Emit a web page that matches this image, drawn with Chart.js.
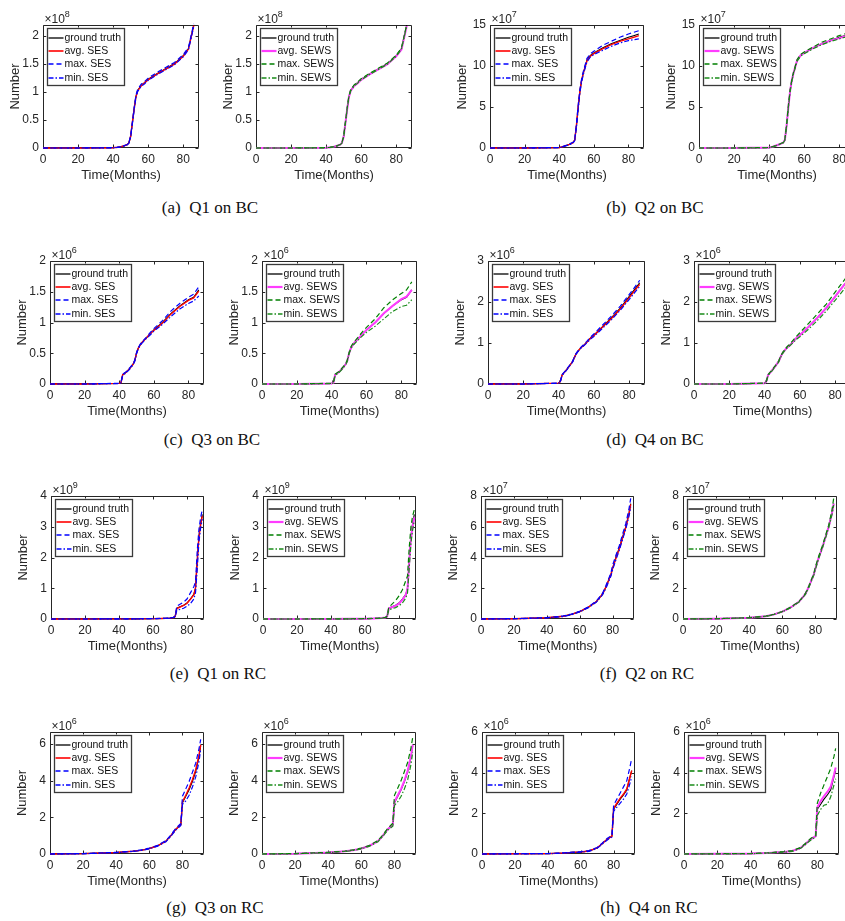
<!DOCTYPE html>
<html>
<head>
<meta charset="utf-8">
<script src="https://cdn.jsdelivr.net/npm/chart.js@4.4.1/dist/chart.umd.min.js"></script>
<style>
  html, body { margin: 0; padding: 0; background: #fff; }
  body { width: 845px; height: 921px; position: relative; overflow: hidden; }
  canvas { position: absolute; }
  .caption {
    position: absolute;
    font-family: 'Liberation Serif', 'Times New Roman', serif;
    font-size: 17px;
    color: #111;
    white-space: pre;
    line-height: 20px;
    transform: translateX(-50%);
  }
</style>
</head>
<body>
<script>
// months on the x axis (BC data and RC data)
const bcMonths   = [0, 20, 40, 41, 42, 44, 46, 48, 49, 50, 51, 52, 53, 54, 56, 58, 60, 65, 70, 75, 80, 83, 86];
const rcMonthsQ1 = [0, 20, 40, 50, 60, 65, 70, 72, 73, 74, 78, 80, 82, 84, 85, 86, 87, 88, 89];
const rcMonths   = [0, 20, 40, 50, 55, 60, 65, 70, 73, 74, 76, 79, 80, 82, 84, 86, 88, 90, 91];
const monthTicks = [0, 20, 40, 60, 80];

// (a) Q1 on BC, x10^8
const aTruth   = [0, 0, 0.005, 0.008, 0.01, 0.02, 0.035, 0.06, 0.09, 0.2, 0.45, 0.7, 0.92, 1.03, 1.12, 1.17, 1.23, 1.33, 1.42, 1.51, 1.65, 1.78, 2.2];
const aAvgSES  = [0, 0, 0.005, 0.008, 0.01, 0.02, 0.036, 0.06, 0.09, 0.21, 0.46, 0.7, 0.91, 1.02, 1.11, 1.17, 1.22, 1.32, 1.41, 1.5, 1.64, 1.77, 2.19];
const aMaxSES  = [0, 0, 0.006, 0.009, 0.012, 0.022, 0.038, 0.063, 0.095, 0.22, 0.47, 0.72, 0.94, 1.05, 1.14, 1.19, 1.25, 1.35, 1.44, 1.53, 1.67, 1.8, 2.22];
const aMinSES  = [0, 0, 0.004, 0.007, 0.009, 0.018, 0.033, 0.056, 0.085, 0.19, 0.43, 0.68, 0.9, 1.01, 1.1, 1.15, 1.21, 1.31, 1.4, 1.49, 1.63, 1.76, 2.17];
const aAvgSEWS = [0, 0, 0.005, 0.008, 0.01, 0.02, 0.035, 0.06, 0.09, 0.2, 0.44, 0.69, 0.91, 1.02, 1.11, 1.16, 1.22, 1.32, 1.41, 1.5, 1.64, 1.76, 2.18];
const aMaxSEWS = [0, 0, 0.006, 0.009, 0.011, 0.021, 0.037, 0.062, 0.093, 0.21, 0.46, 0.71, 0.93, 1.04, 1.13, 1.18, 1.24, 1.34, 1.43, 1.52, 1.66, 1.79, 2.21];
const aMinSEWS = [0, 0, 0.004, 0.007, 0.009, 0.019, 0.034, 0.058, 0.087, 0.19, 0.44, 0.69, 0.91, 1.02, 1.11, 1.16, 1.22, 1.32, 1.41, 1.5, 1.64, 1.77, 2.19];
const aTicks   = [0, 0.5, 1, 1.5, 2];

// (b) Q2 on BC, x10^7
const bTruth   = [0, 0, 0.05, 0.1, 0.15, 0.3, 0.45, 0.65, 1.0, 2.8, 5.0, 7.0, 8.3, 9.2, 10.7, 11.3, 11.6, 12.2, 12.7, 13.1, 13.5, 13.7, 13.9];
const bAvgSES  = [0, 0, 0.05, 0.1, 0.15, 0.3, 0.45, 0.65, 1.0, 2.9, 5.1, 7.0, 8.3, 9.2, 10.6, 11.2, 11.5, 12.1, 12.6, 13.0, 13.3, 13.5, 13.7];
const bMaxSES  = [0, 0, 0.06, 0.11, 0.17, 0.33, 0.5, 0.7, 1.1, 3.0, 5.3, 7.2, 8.5, 9.4, 10.9, 11.5, 11.8, 12.5, 13.0, 13.5, 13.9, 14.1, 14.3];
const bMinSES  = [0, 0, 0.04, 0.09, 0.13, 0.27, 0.4, 0.6, 0.9, 2.6, 4.8, 6.8, 8.1, 9.0, 10.5, 11.1, 11.4, 11.9, 12.4, 12.8, 13.1, 13.2, 13.3];
const bAvgSEWS = [0, 0, 0.05, 0.1, 0.15, 0.3, 0.45, 0.65, 1.0, 2.8, 5.0, 7.0, 8.3, 9.2, 10.7, 11.3, 11.6, 12.2, 12.7, 13.1, 13.4, 13.6, 13.8];
const bMaxSEWS = [0, 0, 0.06, 0.11, 0.16, 0.32, 0.48, 0.68, 1.05, 2.9, 5.2, 7.1, 8.4, 9.3, 10.8, 11.4, 11.7, 12.3, 12.9, 13.3, 13.7, 13.9, 14.1];
const bMinSEWS = [0, 0, 0.04, 0.09, 0.14, 0.28, 0.42, 0.62, 0.95, 2.7, 4.9, 6.9, 8.2, 9.1, 10.6, 11.2, 11.5, 12.1, 12.6, 13.0, 13.3, 13.5, 13.6];
const bTicks   = [0, 5, 10, 15];

// (c) Q3 on BC, x10^6
const cTruth   = [0, 0, 0.01, 0.02, 0.15, 0.19, 0.25, 0.32, 0.38, 0.5, 0.58, 0.63, 0.67, 0.7, 0.76, 0.82, 0.88, 1.0, 1.15, 1.27, 1.37, 1.41, 1.53];
const cAvgSES  = [0, 0, 0.01, 0.02, 0.15, 0.19, 0.25, 0.32, 0.38, 0.5, 0.58, 0.63, 0.67, 0.7, 0.76, 0.82, 0.87, 0.99, 1.14, 1.26, 1.36, 1.4, 1.51];
const cMaxSES  = [0, 0, 0.012, 0.022, 0.16, 0.2, 0.26, 0.33, 0.39, 0.51, 0.59, 0.64, 0.68, 0.71, 0.77, 0.84, 0.9, 1.03, 1.19, 1.31, 1.41, 1.46, 1.58];
const cMinSES  = [0, 0, 0.008, 0.018, 0.14, 0.18, 0.24, 0.31, 0.37, 0.49, 0.57, 0.62, 0.66, 0.69, 0.75, 0.8, 0.86, 0.97, 1.1, 1.22, 1.31, 1.35, 1.43];
const cAvgSEWS = [0, 0, 0.01, 0.02, 0.15, 0.19, 0.25, 0.32, 0.38, 0.5, 0.58, 0.63, 0.67, 0.7, 0.76, 0.82, 0.88, 1.0, 1.15, 1.27, 1.38, 1.42, 1.53];
const cMaxSEWS = [0, 0, 0.012, 0.022, 0.16, 0.2, 0.26, 0.33, 0.39, 0.51, 0.6, 0.65, 0.69, 0.72, 0.79, 0.86, 0.92, 1.06, 1.24, 1.37, 1.47, 1.53, 1.66];
const cMinSEWS = [0, 0, 0.008, 0.018, 0.14, 0.18, 0.24, 0.31, 0.37, 0.49, 0.57, 0.62, 0.65, 0.68, 0.74, 0.79, 0.84, 0.94, 1.06, 1.18, 1.26, 1.28, 1.37];
const cTicks   = [0, 0.5, 1, 1.5, 2];

// (d) Q4 on BC, x10^6
const dTruth   = [0, 0, 0.02, 0.06, 0.22, 0.32, 0.43, 0.55, 0.65, 0.74, 0.8, 0.85, 0.9, 0.93, 1.02, 1.12, 1.19, 1.4, 1.62, 1.85, 2.13, 2.3, 2.47];
const dAvgSES  = [0, 0, 0.02, 0.06, 0.22, 0.32, 0.43, 0.55, 0.65, 0.74, 0.8, 0.85, 0.9, 0.93, 1.02, 1.11, 1.18, 1.39, 1.6, 1.83, 2.1, 2.27, 2.43];
const dMaxSES  = [0, 0, 0.022, 0.065, 0.23, 0.33, 0.44, 0.56, 0.66, 0.75, 0.81, 0.86, 0.91, 0.95, 1.04, 1.14, 1.22, 1.44, 1.66, 1.9, 2.18, 2.35, 2.53];
const dMinSES  = [0, 0, 0.018, 0.055, 0.21, 0.31, 0.42, 0.54, 0.64, 0.73, 0.79, 0.84, 0.89, 0.92, 1.0, 1.09, 1.16, 1.36, 1.57, 1.8, 2.06, 2.22, 2.38];
const dAvgSEWS = [0, 0, 0.02, 0.06, 0.22, 0.32, 0.43, 0.55, 0.65, 0.74, 0.8, 0.85, 0.9, 0.93, 1.02, 1.12, 1.19, 1.4, 1.62, 1.86, 2.13, 2.3, 2.46];
const dMaxSEWS = [0, 0, 0.022, 0.065, 0.23, 0.33, 0.44, 0.56, 0.66, 0.75, 0.82, 0.87, 0.92, 0.96, 1.06, 1.16, 1.25, 1.48, 1.71, 1.95, 2.24, 2.41, 2.58];
const dMinSEWS = [0, 0, 0.018, 0.055, 0.21, 0.31, 0.42, 0.54, 0.64, 0.73, 0.79, 0.84, 0.89, 0.92, 1.0, 1.09, 1.15, 1.34, 1.55, 1.78, 2.04, 2.2, 2.36];
const dTicks   = [0, 1, 2, 3];

// (e) Q1 on RC, x10^9
const eTruth   = [0, 0, 0.003, 0.005, 0.012, 0.018, 0.03, 0.05, 0.08, 0.35, 0.45, 0.52, 0.65, 0.8, 1.0, 1.9, 2.7, 3.1, 3.4];
const eAvgSES  = [0, 0, 0.003, 0.005, 0.012, 0.018, 0.03, 0.05, 0.08, 0.34, 0.44, 0.51, 0.64, 0.79, 1.0, 1.85, 2.65, 3.05, 3.35];
const eMaxSES  = [0, 0, 0.004, 0.006, 0.014, 0.02, 0.035, 0.055, 0.09, 0.42, 0.55, 0.65, 0.85, 1.05, 1.2, 2.2, 2.9, 3.3, 3.55];
const eMinSES  = [0, 0, 0.002, 0.004, 0.01, 0.016, 0.027, 0.045, 0.07, 0.28, 0.35, 0.42, 0.5, 0.65, 0.85, 1.6, 2.5, 2.95, 3.25];
const eAvgSEWS = [0, 0, 0.003, 0.005, 0.012, 0.018, 0.03, 0.05, 0.08, 0.34, 0.43, 0.5, 0.62, 0.78, 0.98, 1.85, 2.6, 3.0, 3.3];
const eMaxSEWS = [0, 0, 0.004, 0.006, 0.014, 0.02, 0.035, 0.055, 0.09, 0.38, 0.6, 0.75, 0.95, 1.25, 1.4, 2.3, 3.0, 3.35, 3.55];
const eMinSEWS = [0, 0, 0.002, 0.004, 0.01, 0.016, 0.027, 0.045, 0.07, 0.3, 0.37, 0.43, 0.52, 0.68, 0.85, 1.65, 2.45, 2.9, 3.2];
const eTicks   = [0, 1, 2, 3, 4];

// (f) Q2 on RC, x10^7
const fTruth   = [0, 0.02, 0.08, 0.18, 0.3, 0.48, 0.75, 1.12, 1.5, 1.65, 2.1, 2.9, 3.3, 4.0, 4.6, 5.3, 6.0, 6.9, 7.5];
const fAvgSES  = [0, 0.02, 0.08, 0.18, 0.3, 0.48, 0.75, 1.12, 1.5, 1.65, 2.1, 2.9, 3.3, 3.95, 4.55, 5.25, 5.95, 6.85, 7.45];
const fMaxSES  = [0, 0.025, 0.09, 0.2, 0.32, 0.5, 0.78, 1.16, 1.55, 1.7, 2.2, 3.0, 3.5, 4.15, 4.75, 5.5, 6.2, 7.2, 7.85];
const fMinSES  = [0, 0.015, 0.07, 0.16, 0.28, 0.46, 0.72, 1.08, 1.45, 1.6, 2.0, 2.8, 3.2, 3.85, 4.45, 5.15, 5.85, 6.7, 7.3];
const fAvgSEWS = [0, 0.02, 0.08, 0.18, 0.3, 0.48, 0.75, 1.12, 1.5, 1.65, 2.1, 2.9, 3.3, 4.0, 4.6, 5.3, 6.0, 6.9, 7.5];
const fMaxSEWS = [0, 0.022, 0.085, 0.19, 0.31, 0.49, 0.77, 1.14, 1.52, 1.68, 2.15, 2.95, 3.4, 4.1, 4.7, 5.4, 6.1, 7.1, 7.85];
const fMinSEWS = [0, 0.018, 0.075, 0.17, 0.29, 0.47, 0.73, 1.1, 1.48, 1.62, 2.05, 2.85, 3.25, 3.95, 4.55, 5.25, 5.95, 6.8, 7.4];
const fTicks   = [0, 2, 4, 6, 8];

// (g) Q3 on RC, x10^6
const gTruth   = [0, 0.02, 0.08, 0.15, 0.2, 0.3, 0.45, 0.7, 1.0, 1.12, 1.35, 1.6, 2.8, 3.15, 3.5, 3.95, 4.5, 5.3, 5.9];
const gAvgSES  = [0, 0.02, 0.08, 0.15, 0.2, 0.3, 0.45, 0.7, 1.0, 1.12, 1.35, 1.6, 2.85, 3.2, 3.6, 4.05, 4.6, 5.4, 5.95];
const gMaxSES  = [0, 0.025, 0.09, 0.16, 0.22, 0.32, 0.48, 0.73, 1.04, 1.16, 1.4, 1.66, 3.15, 3.55, 3.95, 4.45, 4.95, 5.75, 6.25];
const gMinSES  = [0, 0.015, 0.07, 0.14, 0.19, 0.28, 0.43, 0.67, 0.96, 1.08, 1.3, 1.55, 2.7, 2.9, 3.2, 3.65, 4.2, 5.05, 5.7];
const gAvgSEWS = [0, 0.02, 0.08, 0.15, 0.2, 0.3, 0.45, 0.7, 1.0, 1.12, 1.35, 1.6, 2.85, 3.2, 3.55, 4.0, 4.55, 5.35, 5.95];
const gMaxSEWS = [0, 0.025, 0.09, 0.16, 0.22, 0.32, 0.48, 0.73, 1.04, 1.16, 1.4, 1.68, 3.2, 3.6, 4.0, 4.5, 5.0, 5.8, 6.35];
const gMinSEWS = [0, 0.015, 0.07, 0.14, 0.19, 0.28, 0.43, 0.67, 0.96, 1.08, 1.3, 1.52, 2.65, 2.85, 3.15, 3.55, 4.05, 4.9, 5.55];
const gTicks   = [0, 2, 4, 6];

// (h) Q4 on RC, x10^6
const hTruth   = [0, 0.01, 0.02, 0.05, 0.08, 0.1, 0.15, 0.3, 0.5, 0.58, 0.72, 0.88, 2.2, 2.45, 2.7, 2.9, 3.15, 3.8, 4.1];
const hAvgSES  = [0, 0.01, 0.02, 0.05, 0.08, 0.1, 0.15, 0.3, 0.5, 0.58, 0.72, 0.88, 2.25, 2.5, 2.75, 2.95, 3.2, 3.8, 4.1];
const hMaxSES  = [0, 0.012, 0.025, 0.055, 0.09, 0.11, 0.17, 0.32, 0.53, 0.61, 0.76, 0.92, 2.4, 2.7, 3.0, 3.3, 3.6, 4.3, 4.7];
const hMinSES  = [0, 0.008, 0.015, 0.045, 0.07, 0.09, 0.13, 0.28, 0.47, 0.55, 0.68, 0.84, 2.1, 2.3, 2.5, 2.7, 2.95, 3.5, 3.8];
const hAvgSEWS = [0, 0.01, 0.02, 0.05, 0.08, 0.1, 0.15, 0.3, 0.5, 0.58, 0.72, 0.88, 2.3, 2.6, 2.85, 3.05, 3.3, 3.9, 4.25];
const hMaxSEWS = [0, 0.012, 0.025, 0.055, 0.09, 0.11, 0.17, 0.32, 0.53, 0.61, 0.76, 0.92, 2.5, 3.0, 3.4, 3.8, 4.2, 4.8, 5.2];
const hMinSEWS = [0, 0.008, 0.015, 0.045, 0.07, 0.09, 0.13, 0.28, 0.47, 0.55, 0.68, 0.84, 1.9, 2.2, 2.4, 2.45, 2.8, 3.4, 3.7];
const hTicks   = [0, 2, 4, 6];

// ---- layout ----
const Y_W = 45, X_H = 38, PAD_T = 20, PAD_R = 6;
const SANS = '"Liberation Sans", Arial, Helvetica, sans-serif';
const AX = '#262626';

const panels = [
  { cap: '(a)  Q1 on BC', capX: 210, capY: 208, months: bcMonths, truth: aTruth, ses: [aAvgSES, aMaxSES, aMinSES], sews: [aAvgSEWS, aMaxSEWS, aMinSEWS], yTicks: aTicks, yMax: 2.2, xMax: 89, exp: '8', rects: [[43, 25, 199, 148], [256, 25, 412, 148]] },
  { cap: '(b)  Q2 on BC', capX: 655, capY: 208, months: bcMonths, truth: bTruth, ses: [bAvgSES, bMaxSES, bMinSES], sews: [bAvgSEWS, bMaxSEWS, bMinSEWS], yTicks: bTicks, yMax: 15, xMax: 89, exp: '7', rects: [[490, 25, 644, 148], [699, 25, 855, 148]] },
  { cap: '(c)  Q3 on BC', capX: 212, capY: 440, months: bcMonths, truth: cTruth, ses: [cAvgSES, cMaxSES, cMinSES], sews: [cAvgSEWS, cMaxSEWS, cMinSEWS], yTicks: cTicks, yMax: 2, xMax: 89, exp: '6', rects: [[50, 261, 204, 384], [262, 261, 417, 384]] },
  { cap: '(d)  Q4 on BC', capX: 655, capY: 440, months: bcMonths, truth: dTruth, ses: [dAvgSES, dMaxSES, dMinSES], sews: [dAvgSEWS, dMaxSEWS, dMinSEWS], yTicks: dTicks, yMax: 3, xMax: 89, exp: '6', rects: [[488, 261, 645, 384], [694, 261, 851, 384]] },
  { cap: '(e)  Q1 on RC', capX: 218, capY: 674, months: rcMonthsQ1, truth: eTruth, ses: [eAvgSES, eMaxSES, eMinSES], sews: [eAvgSEWS, eMaxSEWS, eMinSEWS], yTicks: eTicks, yMax: 4, xMax: 90, exp: '9', rects: [[51, 496, 204, 619], [263, 496, 416, 619]] },
  { cap: '(f)  Q2 on RC', capX: 647, capY: 674, months: rcMonths, truth: fTruth, ses: [fAvgSES, fMaxSES, fMinSES], sews: [fAvgSEWS, fMaxSEWS, fMinSEWS], yTicks: fTicks, yMax: 8, xMax: 93, exp: '7', rects: [[481, 496, 634, 619], [683, 496, 837, 619]] },
  { cap: '(g)  Q3 on RC', capX: 215, capY: 908, months: rcMonths, truth: gTruth, ses: [gAvgSES, gMaxSES, gMinSES], sews: [gAvgSEWS, gMaxSEWS, gMinSEWS], yTicks: gTicks, yMax: 6.65, xMax: 93, exp: '6', rects: [[50, 732, 204, 854], [262, 732, 416, 854]] },
  { cap: '(h)  Q4 on RC', capX: 649, capY: 908, months: rcMonths, truth: hTruth, ses: [hAvgSES, hMaxSES, hMinSES], sews: [hAvgSEWS, hMaxSEWS, hMinSEWS], yTicks: hTicks, yMax: 6, xMax: 93, exp: '6', rects: [[482, 732, 635, 854], [684, 732, 839, 854]] }
];

const styles = {
  SES:  [{ color: '#ff0000', width: 1.4, dash: [] }, { color: '#0000ff', width: 1.2, dash: [5, 3] }, { color: '#0000ff', width: 1.2, dash: [5, 2, 1.5, 2] }],
  SEWS: [{ color: '#ff3cff', width: 2, dash: [] }, { color: '#007f00', width: 1.2, dash: [5, 3] }, { color: '#1a8c1a', width: 1.2, dash: [5, 2, 1.5, 2] }]
};

// box, inward ticks, exponent (under the data) and legend (over the data)
const matlabFrame = {
  id: 'matlabFrame',
  beforeDatasetsDraw(chart, args, opts) {
    const { ctx, chartArea: a, scales: { x, y } } = chart;
    ctx.save();
    ctx.strokeStyle = AX;
    ctx.lineWidth = 1;
    const l = Math.round(a.left) + 0.5, r = Math.round(a.right) - 0.5;
    const t = Math.round(a.top) + 0.5, b = Math.round(a.bottom) - 0.5;
    ctx.beginPath();
    ctx.rect(l, t, r - l, b - t);
    x.ticks.forEach(tk => {
      const px = Math.round(x.getPixelForValue(tk.value)) + 0.5;
      ctx.moveTo(px, b); ctx.lineTo(px, b - 3);
      ctx.moveTo(px, t); ctx.lineTo(px, t + 3);
    });
    y.ticks.forEach(tk => {
      const py = Math.round(y.getPixelForValue(tk.value)) + 0.5;
      ctx.moveTo(l, py); ctx.lineTo(l + 3, py);
      ctx.moveTo(r, py); ctx.lineTo(r - 3, py);
    });
    ctx.stroke();

    ctx.fillStyle = AX;
    ctx.textBaseline = 'alphabetic';
    ctx.font = '12px ' + SANS;
    ctx.fillText('\u00d710', l + 1, t - 3);
    const ew = ctx.measureText('\u00d710').width;
    ctx.font = '9px ' + SANS;
    ctx.fillText(opts.exp, l + 1 + ew, t - 9);
    ctx.restore();
  },
  afterDatasetsDraw(chart) {
    const { ctx, chartArea: a } = chart;
    ctx.save();
    const l = Math.round(a.left) + 0.5, t = Math.round(a.top) + 0.5;
    ctx.font = '10.5px ' + SANS;
    const dss = chart.data.datasets;
    const tw = Math.max(...dss.map(d => ctx.measureText(d.label).width));
    const bx = l + 3, by = t + 2, bw = 18 + tw + 2, rowH = 13.2, bh = 4 * rowH + 4;
    ctx.fillStyle = '#fff';
    ctx.fillRect(bx, by, bw, bh);
    ctx.strokeStyle = '#3a3a3a';
    ctx.lineWidth = 1.3;
    ctx.strokeRect(Math.round(bx) + 0.5, Math.round(by) + 0.5, Math.round(bw), Math.round(bh));
    ctx.textBaseline = 'middle';
    dss.forEach((d, i) => {
      const cy = Math.round(by + 10.5 + i * rowH);
      ctx.strokeStyle = d.borderColor;
      ctx.lineWidth = d.borderWidth + 0.2;
      ctx.setLineDash(d.borderDash || []);
      ctx.beginPath();
      ctx.moveTo(bx + 2, cy); ctx.lineTo(bx + 17, cy);
      ctx.stroke();
      ctx.setLineDash([]);
      ctx.fillStyle = '#111';
      ctx.fillText(d.label, bx + 18, cy + 0.5);
    });
    ctx.restore();
  }
};

function drawAxes(p, side) {
  const [L, T, R, B] = p.rects[side];
  const method = side === 0 ? 'SES' : 'SEWS';
  const est = side === 0 ? p.ses : p.sews;
  const st = styles[method];
  const w = Y_W + (R - L) + PAD_R;
  const h = PAD_T + (B - T) + X_H;
  const canvas = document.createElement('canvas');
  canvas.width = w; canvas.height = h;
  canvas.style.left = (L - Y_W) + 'px';
  canvas.style.top = (T - PAD_T) + 'px';
  canvas.style.width = w + 'px';
  canvas.style.height = h + 'px';
  document.body.appendChild(canvas);

  const toXY = ys => p.months.map((m, i) => ({ x: m, y: ys[i] }));
  const names = ['avg. ', 'max. ', 'min. '];
  const datasets = [{ label: 'ground truth', data: toXY(p.truth), borderColor: '#000', borderWidth: 1.1, borderDash: [], order: 4, clip: 3 }];
  est.forEach((ys, i) => datasets.push({
    label: names[i] + method, data: toXY(ys), clip: 3,
    borderColor: st[i].color, borderWidth: st[i].width, borderDash: st[i].dash, order: 3 - i
  }));

  const tickFont = { family: SANS, size: 12 };
  const titleFont = { family: SANS, size: 13 };

  new Chart(canvas, {
    type: 'line',
    data: { datasets },
    options: {
      responsive: false,
      animation: false,
      devicePixelRatio: 1,
      layout: { padding: { top: PAD_T, right: PAD_R, left: 0, bottom: 0 } },
      elements: { point: { radius: 0 }, line: { tension: 0, fill: false, borderCapStyle: 'butt' } },
      plugins: { legend: { display: false }, tooltip: { enabled: false }, matlabFrame: { exp: p.exp } },
      scales: {
        x: {
          type: 'linear', min: 0, max: p.xMax,
          afterBuildTicks: s => { s.ticks = monthTicks.map(v => ({ value: v })); },
          afterFit: s => { s.height = X_H; },
          grid: { display: false, drawTicks: false, tickLength: 0 },
          border: { display: false },
          ticks: { padding: 4, font: tickFont, color: AX, maxRotation: 0, autoSkip: false, callback: v => String(v) },
          title: { display: true, text: 'Time(Months)', font: titleFont, color: AX, padding: { top: 0, bottom: 3 } }
        },
        y: {
          type: 'linear', min: 0, max: p.yMax,
          afterBuildTicks: s => { s.ticks = p.yTicks.map(v => ({ value: v })); },
          afterFit: s => { s.width = Y_W; },
          grid: { display: false, drawTicks: false, tickLength: 0 },
          border: { display: false },
          ticks: { padding: 4, font: tickFont, color: AX, autoSkip: false, callback: v => String(v) },
          title: { display: true, text: 'Number', font: titleFont, color: AX, padding: { top: 10, bottom: 0 } }
        }
      }
    },
    plugins: [matlabFrame]
  });
}

panels.forEach(p => {
  drawAxes(p, 0);
  drawAxes(p, 1);
  const c = document.createElement('div');
  c.className = 'caption';
  c.textContent = p.cap;
  c.style.left = p.capX + 'px';
  c.style.top = (p.capY - 10) + 'px';
  document.body.appendChild(c);
});
</script>
</body>
</html>
